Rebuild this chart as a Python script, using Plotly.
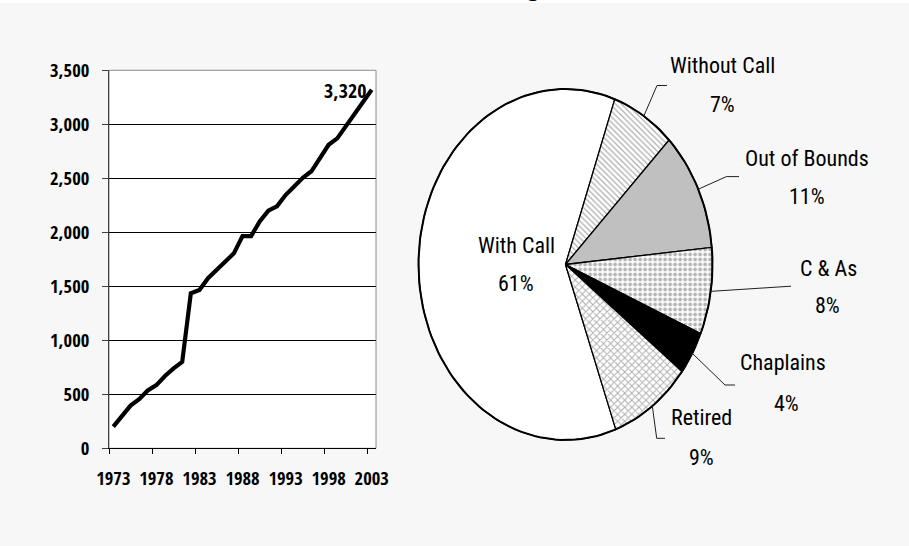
import math
import plotly.graph_objects as go

# ---------------- data ----------------
years = list(range(1973, 2004))
members = [200, 300, 395, 455, 535, 585, 670, 740, 800, 1435,
           1465, 1575, 1650, 1730, 1805, 1965, 1965, 2100, 2200, 2240,
           2345, 2425, 2505, 2565, 2680, 2810, 2870, 2980, 3100, 3210, 3320]
y_ticks = [0, 500, 1000, 1500, 2000, 2500, 3000, 3500]
x_tick_years = [1973, 1978, 1983, 1988, 1993, 1998, 2003]

pie_labels = ["With Call", "Without Call", "Out of Bounds", "C & As", "Chaplains", "Retired"]
pie_values = [61, 7, 11, 8, 4, 9]

# ---------------- layout / style ----------------
W, H = 909, 546
BG = "#f7f7f7"
FONT = "Roboto Condensed, DejaVu Sans Condensed, Lato, sans-serif"
BOLD_FONT = "Open Sans Condensed, Roboto Condensed, DejaVu Sans Condensed, sans-serif"


def pxx(x):
    return x / W


def pxy(y):
    return 1 - y / H


L_X0, L_X1, L_Y0, L_Y1 = 109, 376, 70.3, 448.3
CX, CY, RX, RY = 565.5, 264.5, 147, 175.5
PAD = 1.04
START_DEG = -200.0

slice_style = {
    "With Call": dict(fillcolor="white"),
    "Without Call": dict(fillcolor="white",
                         fillpattern=dict(shape="\\", fgcolor="#5a5a5a", bgcolor="white",
                                          size=4, solidity=0.3)),
    "Out of Bounds": dict(fillcolor="#c0c0c0"),
    "C & As": dict(fillcolor="white",
                   fillpattern=dict(shape=".", fgcolor="#6a6a6a", bgcolor="white",
                                    size=5, solidity=0.45)),
    "Chaplains": dict(fillcolor="black"),
    "Retired": dict(fillcolor="white",
                    fillpattern=dict(shape="x", fgcolor="#5a5a5a", bgcolor="white",
                                     size=5, solidity=0.35)),
}

label_layout = {
    "With Call": dict(name=(516, 246), pct=(516, 283), leader=[]),
    "Without Call": dict(name=(722, 65), pct=(722, 105), leader=[(657, 85.5), (667, 85.5)]),
    "Out of Bounds": dict(name=(807, 158), pct=(807, 196), leader=[(726.4, 176.6), (739, 176.6)]),
    "C & As": dict(name=(828, 268), pct=(827, 305), leader=[(791, 286.2)]),
    "Chaplains": dict(name=(783, 362), pct=(786, 403), leader=[(725, 385), (735, 385)]),
    "Retired": dict(name=(701, 418), pct=(701, 457), leader=[(656.7, 438.3), (665, 438.3)]),
}

fig = go.Figure()

fig.add_trace(go.Scatter(
    x=years, y=members, mode="lines",
    line=dict(color="black", width=4.2),
    xaxis="x", yaxis="y", hoverinfo="x+y", showlegend=False,
))

total = sum(pie_values)
angle = START_DEG
annotations = []
shapes = []
for lab, val in zip(pie_labels, pie_values):
    span = val / total * 360.0
    n = max(8, int(span * 1.5))
    us, vs = [0.0], [0.0]
    for k in range(n + 1):
        t = math.radians(angle + span * k / n)
        us.append(math.sin(t))
        vs.append(math.cos(t))
    us.append(0.0)
    vs.append(0.0)
    st = slice_style[lab]
    kw = dict(fillcolor=st["fillcolor"])
    if "fillpattern" in st:
        kw["fillpattern"] = st["fillpattern"]
    fig.add_trace(go.Scatter(
        x=us, y=vs, mode="lines", fill="toself",
        line=dict(color="black", width=1.3),
        xaxis="x2", yaxis="y2", name=lab, showlegend=False,
        hoverinfo="text", text=f"{lab}: {val}%", **kw,
    ))
    mid = math.radians(angle + span / 2)
    ex = CX + RX * math.sin(mid)
    ey = CY - RY * math.cos(mid)
    lay = label_layout[lab]
    if lay["leader"]:
        pts = [(ex, ey)] + lay["leader"]
        path = "M " + " L ".join(f"{pxx(a):.5f},{pxy(b):.5f}" for a, b in pts)
        shapes.append(dict(type="path", path=path, xref="paper", yref="paper",
                           line=dict(color="#202020", width=1)))
    annotations.append(dict(x=pxx(lay["name"][0]), y=pxy(lay["name"][1]),
                            xref="paper", yref="paper", text=lab, showarrow=False,
                            xanchor="center", yanchor="middle",
                            font=dict(family=FONT, size=22, color="black")))
    annotations.append(dict(x=pxx(lay["pct"][0]), y=pxy(lay["pct"][1]),
                            xref="paper", yref="paper", text=f"{val}%", showarrow=False,
                            xanchor="center", yanchor="middle",
                            font=dict(family=FONT, size=22, color="black")))
    angle += span

ts = [math.radians(a) for a in range(0, 361, 2)]
fig.add_trace(go.Scatter(
    x=[math.sin(t) for t in ts], y=[math.cos(t) for t in ts], mode="lines",
    line=dict(color="black", width=2), xaxis="x2", yaxis="y2",
    hoverinfo="skip", showlegend=False,
))

annotations.append(dict(x=years[-1], y=members[-1], xref="x", yref="y",
                        text=f"{members[-1]:,}", showarrow=False,
                        xanchor="right", yanchor="middle", xshift=-4, yshift=-1,
                        font=dict(family=BOLD_FONT, size=20, color="black", weight="bold")))

# cut-off title glyph at the very top (only its descender is inside the picture)
annotations.append(dict(x=pxx(533), y=pxy(3.5), xref="paper", yref="paper", text="g",
                        showarrow=False, xanchor="center", yanchor="bottom",
                        font=dict(family="Liberation Serif, DejaVu Serif, serif", size=24,
                                  color="black", weight="bold")))

shapes.insert(0, dict(type="rect", xref="paper", yref="paper", x0=0, x1=1,
                      y0=pxy(3), y1=1, fillcolor="white", line=dict(width=0),
                      layer="below"))
shapes.insert(1, dict(type="rect", xref="x domain", yref="y domain", x0=0, x1=1,
                      y0=0, y1=1, fillcolor="white",
                      line=dict(color="#8c8c8c", width=1), layer="below"))

tickfont = dict(family=BOLD_FONT, size=18.5, color="black", weight="bold")

fig.update_layout(
    width=W, height=H, autosize=False,
    margin=dict(l=0, r=0, t=0, b=0, pad=0, autoexpand=False),
    paper_bgcolor=BG, plot_bgcolor=BG,
    showlegend=False,
    shapes=shapes, annotations=annotations,
    xaxis=dict(
        domain=[pxx(L_X0), pxx(L_X1)], range=[1972.5, 2003.5],
        tickmode="array", tickvals=x_tick_years,
        ticktext=[str(y) for y in x_tick_years], tickangle=0,
        ticks="", showline=True, linecolor="black", linewidth=1,
        showgrid=False, zeroline=False, tickfont=tickfont, automargin=False,
        ticklabelstandoff=13, anchor="y", fixedrange=True,
        minor=dict(tick0=1972.5, dtick=5, ticks="outside", ticklen=5,
                   tickcolor="black", tickwidth=1, showgrid=False),
    ),
    yaxis=dict(
        domain=[pxy(L_Y1), pxy(L_Y0)], range=[0, 3500],
        tickmode="array", tickvals=y_ticks, tickformat=",",
        ticks="outside", ticklen=6, tickcolor="#404040",
        showline=True, linecolor="#404040", linewidth=1, automargin=False,
        showgrid=True, gridcolor="black", gridwidth=1, zeroline=False,
        tickfont=tickfont, ticklabelstandoff=9, anchor="x", fixedrange=True,
    ),
    xaxis2=dict(
        domain=[pxx(CX - RX * PAD), pxx(CX + RX * PAD)], range=[-PAD, PAD],
        visible=False, anchor="y2", fixedrange=True, automargin=False,
    ),
    yaxis2=dict(
        domain=[pxy(CY + RY * PAD), pxy(CY - RY * PAD)], range=[-PAD, PAD],
        visible=False, anchor="x2", fixedrange=True, automargin=False,
    ),
)

fig.write_html("out.html", config={"displayModeBar": False},
               post_script="document.body.style.margin='0';document.body.style.overflow='hidden';")
